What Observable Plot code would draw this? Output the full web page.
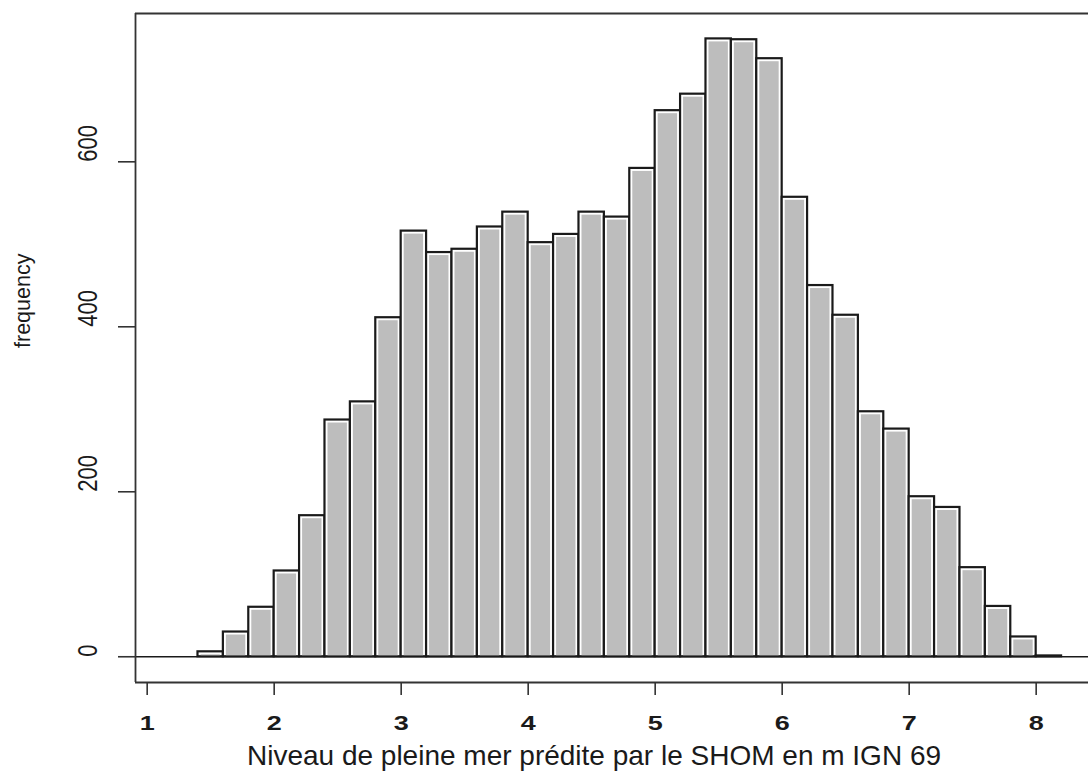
<!DOCTYPE html>
<html><head><meta charset="utf-8">
<script src="https://cdn.jsdelivr.net/npm/d3@7"></script>
<script src="https://cdn.jsdelivr.net/npm/@observablehq/plot@0.6"></script>
<style>html,body{margin:0;padding:0;background:#fff;overflow:hidden}</style>
</head><body><div id="chart"></div>
<script>
// Histogram bins (left edges, bin width 0.2 m) and counts
const binStart = [1.4, 1.6, 1.8, 2.0, 2.2, 2.4, 2.6, 2.8, 3.0, 3.2, 3.4, 3.6, 3.8, 4.0, 4.2, 4.4, 4.6,
                  4.8, 5.0, 5.2, 5.4, 5.6, 5.8, 6.0, 6.2, 6.4, 6.6, 6.8, 7.0, 7.2, 7.4, 7.6, 7.8, 8.0];
const counts   = [6, 30, 60, 104, 171, 287, 309, 411, 516, 490, 494, 521, 539, 502, 512, 539, 533,
                  592, 662, 682, 749, 748, 725, 557, 450, 414, 297, 276, 194, 181, 108, 61, 24, 1];
const binWidth = 0.2;
const xTicks = [1, 2, 3, 4, 5, 6, 7, 8];
const yTicks = [0, 200, 400, 600];
const xLabel = "Niveau de pleine mer prédite par le SHOM en m IGN 69";
const yLabel = "frequency";
const xDomain = [0.908, 8.412];
const yDomain = [-31.2, 779.8];

const bins = binStart.map((x0, i) => ({x1: x0, x2: +(x0 + binWidth).toFixed(2), count: counts[i]}));
const ink = "#1a1a1a";

const chart = Plot.plot({
  width: 1088, height: 776,
  marginLeft: 135, marginRight: 0, marginTop: 13, marginBottom: 94,
  style: {fontFamily: "'Liberation Sans', Arial, Helvetica, sans-serif", color: ink, background: "#fff"},
  x: {domain: xDomain, axis: null},
  y: {domain: yDomain, axis: null},
  marks: [
    Plot.rectY(bins, {x1: "x1", x2: "x2", y1: 0, y2: "count", fill: "#fff", stroke: ink, strokeWidth: 2.2}),
    Plot.rectY(bins, {filter: d => d.count > 5, x1: "x1", x2: "x2", y1: 0, y2: "count", fill: "#bdbdbd",
                      insetLeft: 3, insetRight: 3, insetTop: 3, insetBottom: 1}),
    Plot.ruleY([0], {stroke: ink, strokeWidth: 1.6}),
    Plot.ruleY([yDomain[1]], {stroke: "#333", strokeWidth: 1.8}),
    Plot.ruleY([yDomain[0]], {stroke: "#333", strokeWidth: 1.8}),
    Plot.ruleX([xDomain[0]], {stroke: "#333", strokeWidth: 1.8}),
    Plot.axisX(xTicks, {tickSize: 13, tickPadding: 20, fontSize: 20, fontWeight: "bold", label: null,
                        tickFormat: d => String(d), stroke: "#333", strokeWidth: 1.6}),
    Plot.axisY(yTicks, {tickSize: 17, tickFormat: () => "", label: null, stroke: "#333", strokeWidth: 1.6}),
    Plot.text(yTicks, {y: d => d, frameAnchor: "left", dx: -47, rotate: -90, text: d => String(d), fontSize: 22, fill: ink}),
    Plot.text([yLabel], {frameAnchor: "left", dx: -112, dy: 0, rotate: -90, fontSize: 21.5, fill: ink}),
    Plot.text([xLabel], {frameAnchor: "bottom", dx: -18, dy: 82, fontSize: 28, fill: ink})
  ]
});

// The scanned reference is stretched horizontally: widen the tick labels accordingly
function stretch(t, s, rotated) {
  const tr = t.getAttribute("transform");
  if (!tr) return;
  t.setAttribute("transform", tr + (rotated ? ` scale(1,${s})` : ` scale(${s},1)`));
}
const yTickStr = yTicks.map(String), xTickStr = xTicks.map(String);
chart.querySelectorAll("text").forEach(t => {
  const s = t.textContent, tr = t.getAttribute("transform") || "";
  if (tr.includes("rotate") && yTickStr.includes(s)) stretch(t, 1.22, true);
  else if (!tr.includes("rotate") && xTickStr.includes(s)) stretch(t, 1.35, false);
});
document.getElementById("chart").appendChild(chart);
</script>
</body></html>
